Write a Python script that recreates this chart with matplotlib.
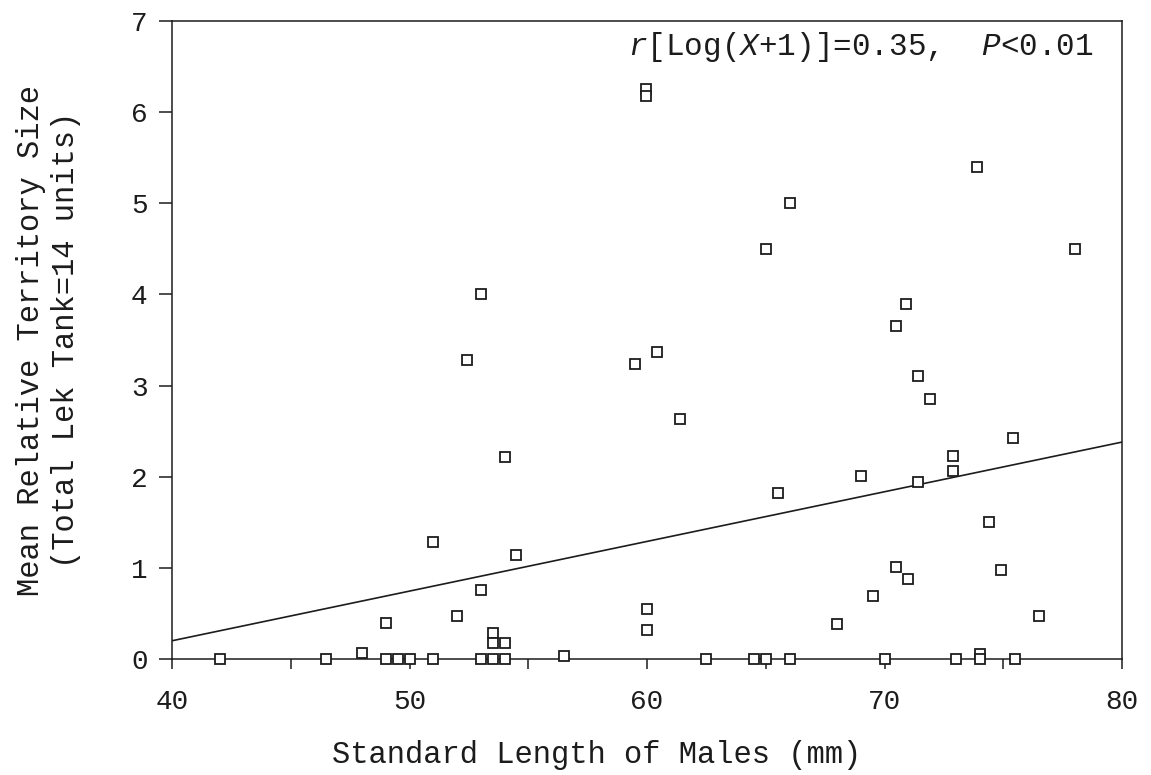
import matplotlib
matplotlib.use("Agg")
import matplotlib.pyplot as plt
import numpy as np

# Standard length of each male (mm) and his mean relative territory size
length_mm = [42, 46.5, 48, 49, 49, 49.5, 50, 51, 51, 52, 52.4, 53, 53, 53,
             53.5, 54, 53.5, 53.5, 54, 54, 54.5, 56.5, 59.5, 59.95, 59.95,
             60, 60, 60.4, 61.4, 62.5, 64.5, 65, 65, 65.5, 66, 66, 68, 69,
             69.5, 70, 70.5, 70.5, 70.9, 71, 71.4, 71.4, 71.9, 72.9, 72.9,
             73, 73.9, 74, 74, 74.4, 74.9, 75.4, 75.5, 76.5, 78]
territory = [0, 0, 0.07, 0.4, 0, 0, 0, 0, 1.28, 0.47, 3.28, 4.0, 0.76, 0,
             0, 0, 0.29, 0.18, 0.18, 2.22, 1.14, 0.03, 3.24, 6.25, 6.18,
             0.55, 0.32, 3.37, 2.63, 0, 0, 0, 4.5, 1.82, 5.0, 0, 0.38, 2.01,
             0.69, 0, 3.65, 1.01, 3.9, 0.88, 3.11, 1.94, 2.85, 2.23, 2.06,
             0, 5.4, 0.05, 0, 1.50, 0.98, 2.43, 0, 0.47, 4.5]

# Fitted regression line (territory = intercept + slope * length)
fit_intercept = -1.98
fit_slope = 0.0545
fit_range = [40, 80]

x_ticks = [40, 50, 60, 70, 80]
x_minor = [45, 55, 65, 75]
y_ticks = [0, 1, 2, 3, 4, 5, 6, 7]

ink = "#1c1c1c"
mono = "Liberation Mono"
plt.rcParams["font.family"] = [mono, "DejaVu Sans"]
plt.rcParams["mathtext.fontset"] = "custom"
plt.rcParams["mathtext.rm"] = mono
plt.rcParams["mathtext.it"] = mono + ":italic"

W, H = 1151, 775
fig = plt.figure(figsize=(W / 100, H / 100), dpi=100)
ax = fig.add_axes([172 / W, 1 - 659 / H, 950 / W, 638 / H])

ax.set_xlim(40, 80)
ax.set_ylim(0, 7)

fx = np.array(fit_range, dtype=float)
ax.plot(fx, fit_intercept + fit_slope * fx, color=ink, lw=1.2, zorder=2)

ax.plot(length_mm, territory, linestyle="none", marker="s", ms=7.8,
        mfc="white", mec=ink, mew=1.3, clip_on=False, zorder=3)

for side in ["left", "right", "top", "bottom"]:
    ax.spines[side].set_linewidth(1.1)
    ax.spines[side].set_color(ink)

ax.set_xticks(x_ticks)
ax.set_xticks(x_minor, minor=True)
ax.set_yticks(y_ticks)
ax.tick_params(axis="x", which="both", direction="out", length=7.5,
               width=1.1, color=ink, labelsize=20, pad=14, labelcolor=ink)
ax.tick_params(axis="y", direction="out", length=9.5, width=1.1,
               color=ink, labelsize=20, pad=8, labelcolor=ink)

ax.set_xlabel("Standard Length of Males (mm)", fontsize=22, color=ink,
              va="center")
ax.xaxis.set_label_coords(0.447, -0.15)
ax.set_ylabel("Mean Relative Territory Size\n(Total Lek Tank=14 units)",
              fontsize=22, color=ink, va="center", linespacing=1.25)
ax.yaxis.set_label_coords(-0.13, 0.5)

ax.text(0.9705, 0.96, r"$r$[Log($X$+1)]=0.35,  $P$<0.01",
        transform=ax.transAxes, ha="right", va="center", fontsize=22.3,
        color=ink)

fig.savefig("out.png", dpi=100, facecolor="white")
